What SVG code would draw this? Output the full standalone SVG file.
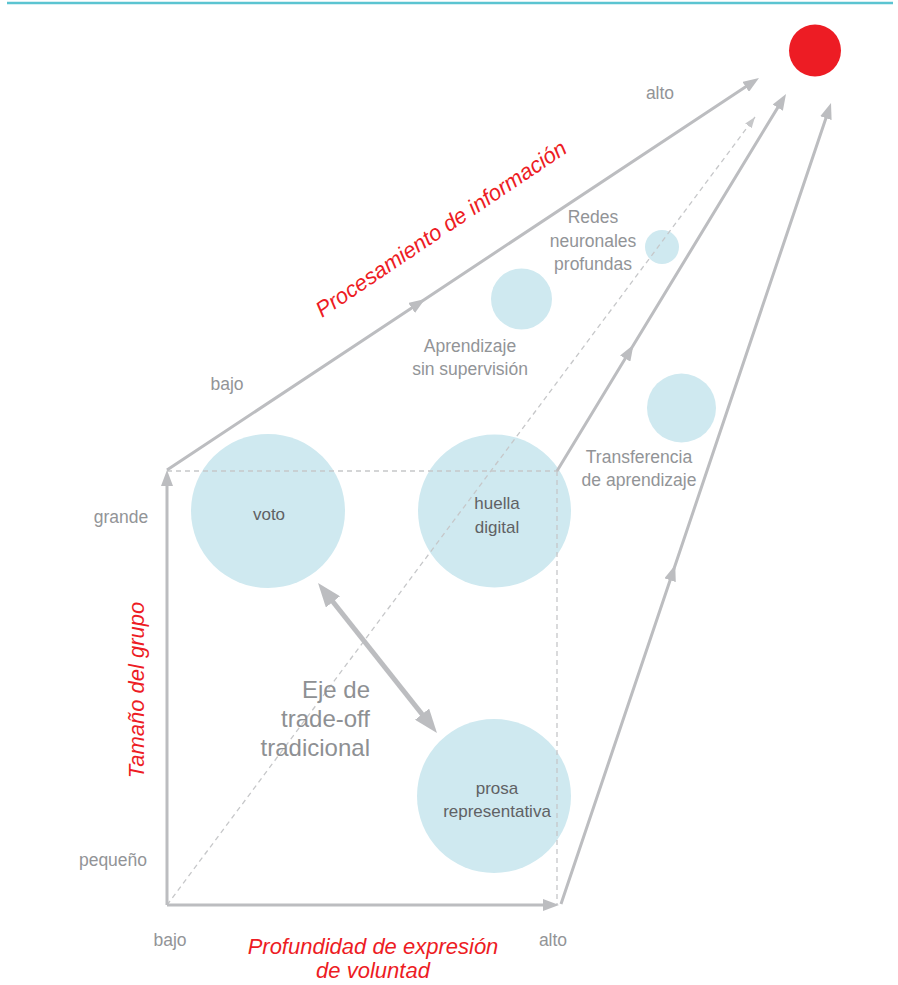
<svg xmlns="http://www.w3.org/2000/svg" width="898" height="985" viewBox="0 0 898 985">
<style>
.ln{fill:none;stroke:#bcbdc0;stroke-width:3}
.dash{fill:none;stroke:#c6c7c9;stroke-width:1.3;stroke-dasharray:5 4}
.bub{fill:#cfe9f0}
.lbl{font-family:"Liberation Sans",Arial,sans-serif;font-size:17.5px;fill:#929497}
.in{font-family:"Liberation Sans",Arial,sans-serif;font-size:17px;fill:#606164;text-anchor:middle}
.ax{font-family:"Liberation Sans",Arial,sans-serif;font-size:22px;font-style:italic;fill:#ed1c24}
.c{text-anchor:middle}
</style>
<defs>
<marker id="ah" markerUnits="userSpaceOnUse" markerWidth="16" markerHeight="12" viewBox="0 0 16 12" refX="10" refY="6" orient="auto"><path d="M0,0 L16,6 L0,12 z" fill="#bcbdc0"/></marker>
<marker id="ahs" markerUnits="userSpaceOnUse" markerWidth="11" markerHeight="8" viewBox="0 0 11 8" refX="11" refY="4" orient="auto"><path d="M0,0 L11,4 L0,8 z" fill="#c6c7c9"/></marker>
<marker id="ahb" markerUnits="userSpaceOnUse" markerWidth="24" markerHeight="18" viewBox="0 0 24 18" refX="16" refY="9" orient="auto-start-reverse"><path d="M0,0 L24,9 L0,18 z" fill="#bcbdc0"/></marker>
</defs>
<line x1="7" y1="3" x2="893" y2="3" stroke="#5bc4d1" stroke-width="2.5"/>
<g id="bubbles">
<g id="n-voto"><circle class="bub" cx="268" cy="511" r="77"/><text class="in" x="269" y="520">voto</text></g>
<g id="n-huella"><circle class="bub" cx="494.5" cy="511" r="76.5"/><text class="in" x="497" y="509">huella</text><text class="in" x="497" y="533">digital</text></g>
<g id="n-prosa"><circle class="bub" cx="494" cy="796" r="77"/><text class="in" x="497" y="794">prosa</text><text class="in" x="497" y="817">representativa</text></g>
<g id="n-aprendizaje"><circle class="bub" cx="521.5" cy="299" r="30.5"/><text class="lbl c" x="470" y="352">Aprendizaje</text><text class="lbl c" x="470" y="375">sin supervisión</text></g>
<g id="n-redes"><circle class="bub" cx="662" cy="247" r="17"/><text class="lbl c" x="593" y="223">Redes</text><text class="lbl c" x="593" y="247">neuronales</text><text class="lbl c" x="593" y="270">profundas</text></g>
<g id="n-transferencia"><circle class="bub" cx="681.5" cy="408" r="34.5"/><text class="lbl c" x="639" y="463">Transferencia</text><text class="lbl c" x="639" y="486">de aprendizaje</text></g>
<g id="n-goal"><circle cx="815" cy="50.5" r="26" fill="#ed1c24"/></g>
</g>
<g id="connectors">
<path class="dash" d="M167,471 H558 M557,471 V905"/>
<path class="dash" d="M167,905 L755,117" marker-end="url(#ahs)"/>
<path class="ln" d="M167,905 V476" marker-end="url(#ah)"/>
<path class="ln" d="M167,905 H553" marker-end="url(#ah)"/>
<path class="ln" d="M167,470 L420,302.4 L754,81.3" marker-mid="url(#ah)" marker-end="url(#ah)"/>
<path class="ln" d="M557,471 L630.4,350 L782.9,99.1" marker-mid="url(#ah)" marker-end="url(#ah)"/>
<path class="ln" d="M561,904 L673.3,570.7 L829.1,108.7" marker-mid="url(#ah)" marker-end="url(#ah)"/>
<path d="M323,589.3 L432,726.7" fill="none" stroke="#bcbdc0" stroke-width="5" marker-start="url(#ahb)" marker-end="url(#ahb)"/>
</g>
<g id="labels">
<text class="lbl c" x="660" y="99">alto</text>
<text class="lbl c" x="227" y="390">bajo</text>
<text class="lbl c" x="121" y="523">grande</text>
<text class="lbl c" x="113" y="866">pequeño</text>
<text class="lbl c" x="170" y="946">bajo</text>
<text class="lbl c" x="553" y="946">alto</text>
<text class="ax c" x="373" y="954">Profundidad de expresión</text>
<text class="ax c" x="373" y="978">de voluntad</text>
<text class="ax c" transform="translate(144,690) rotate(-90)">Tamaño del grupo</text>
<text class="ax" transform="translate(322,318) rotate(-34)">Procesamiento de información</text>
<g font-family="Liberation Sans,Arial,sans-serif" font-size="24" fill="#8e9093" text-anchor="end">
<text x="370" y="698">Eje de</text>
<text x="370" y="727">trade-off</text>
<text x="370" y="756">tradicional</text>
</g>
</g>
</svg>
